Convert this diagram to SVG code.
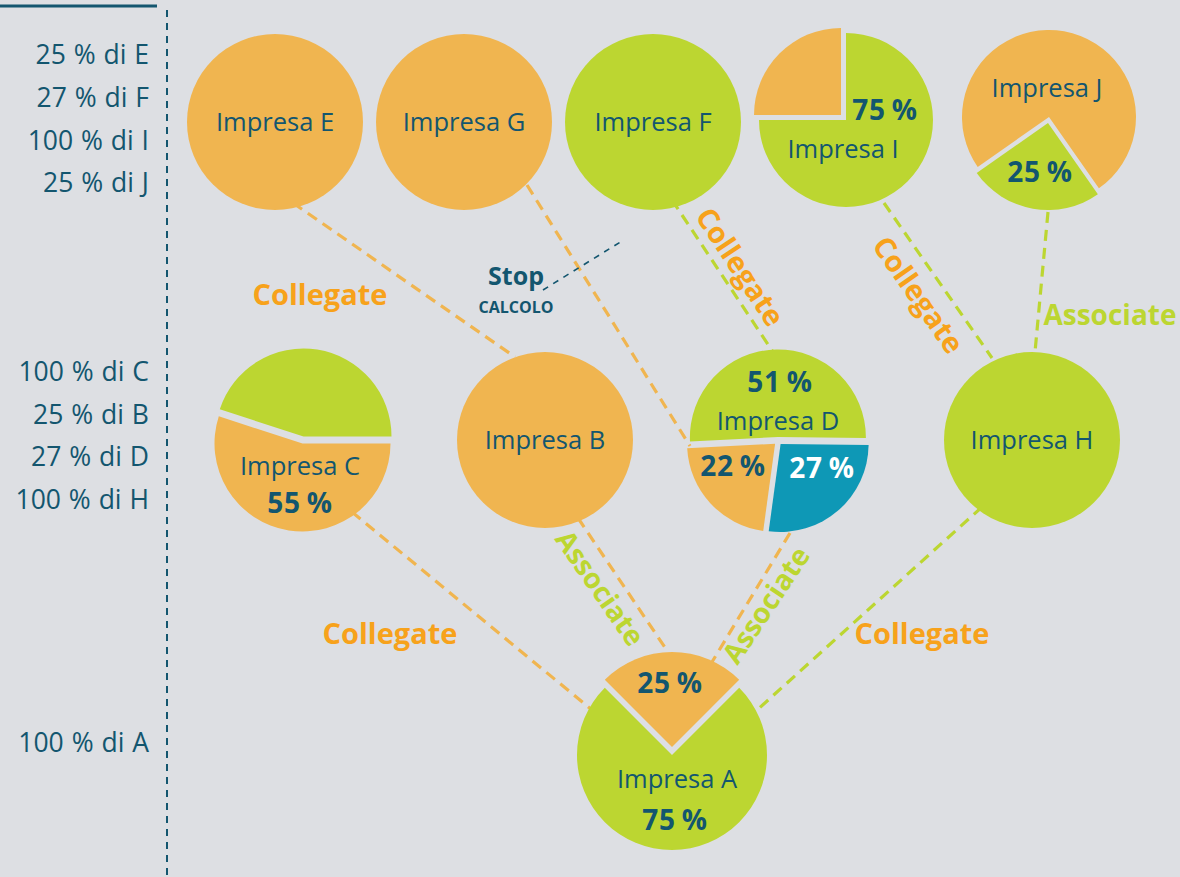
<svg xmlns="http://www.w3.org/2000/svg" width="1180" height="877" viewBox="0 0 1180 877">
<style>
.lbl{font-family:"Open Sans","Noto Sans",sans-serif;font-size:26.5px;fill:#13566f;text-anchor:end;word-spacing:1px}
.nm{font-family:"Open Sans","Noto Sans",sans-serif;font-size:25.5px;fill:#13566f;text-anchor:middle}
.pc{font-family:"Open Sans","Noto Sans",sans-serif;font-size:28px;font-weight:bold;fill:#13566f;text-anchor:middle;word-spacing:-2px;letter-spacing:0.8px}
.col{font-family:"Open Sans","Noto Sans",sans-serif;font-size:29px;font-weight:bold;fill:#f7a21b;text-anchor:middle}
.ass{font-family:"Open Sans","Noto Sans",sans-serif;font-size:28px;font-weight:bold;fill:#bcd631;text-anchor:middle}
.or{fill:#f0b550}
.gr{fill:#bcd631}
.bl{fill:#0e98b6}
.lo{stroke:#f0b550;stroke-width:3.2;stroke-dasharray:11 7;fill:none}
.lg{stroke:#bcd631;stroke-width:3.2;stroke-dasharray:11 7;fill:none}
</style>
<rect width="1180" height="877" fill="#dddfe3"/>
<g id="frame">
<line x1="0" y1="6" x2="157" y2="6" stroke="#13566f" stroke-width="3"/>
<line x1="167" y1="10" x2="167" y2="877" stroke="#13566f" stroke-width="2" stroke-dasharray="7 6"/>
</g>
<g id="left-labels">
<text class="lbl" x="149" y="64">25 % di E</text>
<text class="lbl" x="149" y="107">27 % di F</text>
<text class="lbl" x="149" y="150">100 % di I</text>
<text class="lbl" x="149" y="192">25 % di J</text>
<text class="lbl" x="149" y="381">100 % di C</text>
<text class="lbl" x="149" y="424">25 % di B</text>
<text class="lbl" x="149" y="466">27 % di D</text>
<text class="lbl" x="149" y="509">100 % di H</text>
<text class="lbl" x="149" y="752">100 % di A</text>
</g>
<g id="connectors">
<line class="lo" x1="293" y1="203" x2="515" y2="357"/>
<line class="lo" x1="527" y1="185" x2="690" y2="446"/>
<line class="lg" x1="672" y1="200" x2="773" y2="352"/>
<line class="lg" x1="884" y1="203" x2="992" y2="358"/>
<line class="lg" x1="1048" y1="212" x2="1035" y2="352"/>
<line class="lo" x1="352" y1="512" x2="592" y2="710"/>
<line class="lo" x1="578" y1="518" x2="668" y2="652"/>
<line class="lo" x1="790" y1="533" x2="712" y2="662"/>
<line class="lg" x1="982" y1="507" x2="756" y2="711"/>
<line x1="543" y1="290" x2="622" y2="241" stroke="#13566f" stroke-width="1.6" stroke-dasharray="6 6"/>
<text class="col" x="320" y="305">Collegate</text>
<text class="col" x="390" y="644">Collegate</text>
<text class="col" x="922" y="644">Collegate</text>
<text class="ass" x="1110" y="325">Associate</text>
<text class="col" transform="translate(740,267) rotate(56.6)" y="10">Collegate</text>
<text class="col" transform="translate(918,295) rotate(55)" y="10">Collegate</text>
<text class="ass" transform="translate(600,588) rotate(55.3)" y="10">Associate</text>
<text class="ass" transform="translate(766,605) rotate(-56.4)" y="10">Associate</text>
<text x="516" y="285" font-family="Open Sans, Noto Sans, sans-serif" font-size="25" font-weight="bold" fill="#13566f" text-anchor="middle">Stop</text>
<text x="516" y="313" font-family="Open Sans, Noto Sans, sans-serif" font-size="16" font-weight="bold" fill="#13566f" text-anchor="middle">CALCOLO</text>
</g>
<g id="impresa-e">
<circle class="or" cx="275" cy="122" r="88"/>
<text class="nm" x="275" y="131">Impresa E</text>
</g>
<g id="impresa-g">
<circle class="or" cx="464" cy="122" r="88"/>
<text class="nm" x="464" y="131">Impresa G</text>
</g>
<g id="impresa-f">
<circle class="gr" cx="653" cy="122" r="88"/>
<text class="nm" x="653" y="131">Impresa F</text>
</g>
<g id="impresa-i">
<path class="gr" d="M846,120 L846,33 A87,87 0 1,1 759,120 Z"/>
<path class="or" d="M841,115 L754,115 A87,87 0 0,1 841,28 Z"/>
<text class="pc" x="885" y="120">75 %</text>
<text class="nm" x="843" y="158">Impresa I</text>
</g>
<g id="impresa-j">
<path class="or" d="M1049,117 L977.7,166.9 A87,87 0 1,1 1098.9,188.3 Z"/>
<path class="gr" d="M1048,123 L1097.9,194.3 A87,87 0 0,1 976.7,172.9 Z"/>
<text class="nm" x="1047" y="97">Impresa J</text>
<text class="pc" x="1040" y="182">25 %</text>
</g>
<g id="impresa-c">
<path class="gr" d="M303.5,436.5 L219.8,409.3 A88,88 0 0,1 391.5,436.5 Z"/>
<path class="or" d="M302.5,443.5 L390.5,443.5 A88,88 0 1,1 218.8,416.3 Z"/>
<text class="nm" x="300" y="475">Impresa C</text>
<text class="pc" x="300" y="513">55 %</text>
</g>
<g id="impresa-b">
<circle class="or" cx="545" cy="440" r="88"/>
<text class="nm" x="545" y="449">Impresa B</text>
</g>
<g id="impresa-d">
<path class="gr" d="M777.9,437 L690,441.6 A88,88 0 1,1 865.9,437.9 Z"/>
<path class="bl" d="M780.6,444 L868.6,444.9 A88,88 0 0,1 768.7,531.2 Z"/>
<path class="or" d="M775.1,443.7 L763.2,530.9 A88,88 0 0,1 687.2,448.3 Z"/>
<text class="pc" x="780" y="392">51 %</text>
<text class="nm" x="778" y="430">Impresa D</text>
<text class="pc" x="733" y="476">22 %</text>
<text class="pc" x="822" y="478" style="fill:#ffffff">27 %</text>
</g>
<g id="impresa-h">
<circle class="gr" cx="1032" cy="440" r="88"/>
<text class="nm" x="1032" y="449">Impresa H</text>
</g>
<g id="impresa-a">
<path class="gr" d="M672,755 L739.2,687.8 A95,95 0 1,1 604.8,687.8 Z"/>
<path class="or" d="M672,747 L604.8,679.8 A95,95 0 0,1 739.2,679.8 Z"/>
<text class="pc" x="670" y="693">25 %</text>
<text class="nm" x="677" y="788">Impresa A</text>
<text class="pc" x="675" y="830">75 %</text>
</g>
</svg>
